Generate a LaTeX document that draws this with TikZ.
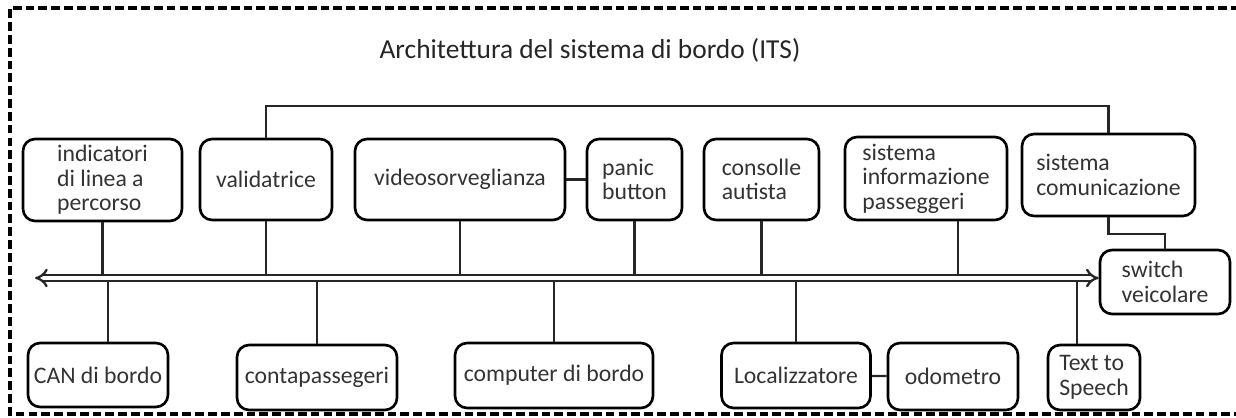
\documentclass[tikz,border=0pt]{standalone}
\usepackage{fontspec}
\setmainfont{Carlito}
\usetikzlibrary{arrows.meta}

\tikzset{
    modulo/.style={rectangle, rounded corners=0.24cm, draw, line width=1.5pt, align=left,
        font=\fontsize{13.5}{14}\selectfont, text=black!80, inner sep=2pt},
    linea/.style={line width=1.3pt, draw=black!85}
}

\begin{document}
\begin{tikzpicture}[x=0.02cm, y=-0.02cm]
    \useasboundingbox (0, 0) rectangle (1236, 418);
    \draw[line width=1.9pt, dash pattern=on 5pt off 2.3pt] (1240, 8) -- (10, 8) -- (10, 414) -- (1240, 414);

    \node (titolo) at (590, 50) {\fontsize{15.6}{18}\selectfont\color{black!85}Architettura del sistema di bordo (ITS)};

    \node (ind) [modulo, minimum width=3.18cm, minimum height=1.64cm] at (102.5, 180) {indicatori\\di linea a\\percorso};
    \node (val) [modulo, minimum width=2.64cm, minimum height=1.62cm] at (266, 179.5) {validatrice};
    \node (video) [modulo, minimum width=4.2cm, minimum height=1.62cm] at (460, 179.5) {videosorveglianza};
    \node (panic) [modulo, minimum width=1.9cm, minimum height=1.62cm] at (634.5, 179.5) {panic\\button};
    \node (consolle) [modulo, minimum width=2.3cm, minimum height=1.62cm] at (761.5, 179.5) {consolle\\autista};
    \node (sinfo) [modulo, minimum width=3.24cm, minimum height=1.66cm] at (926, 178.5) {sistema\\informazione\\passeggeri};
    \node (scom) [modulo, minimum width=3.46cm, minimum height=1.64cm] at (1108.5, 175) {sistema\\comunicazione};
    \node (switch) [modulo, minimum width=2.6cm, minimum height=1.28cm] at (1165, 282) {switch\\veicolare};

    \node (can) [modulo, minimum width=2.8cm, minimum height=1.28cm] at (98, 375) {CAN di bordo};
    \node (conta) [modulo, minimum width=3.2cm, minimum height=1.3cm] at (317, 377.5) {contapassegeri};
    \node (comp) [modulo, minimum width=3.96cm, minimum height=1.3cm] at (554, 375.5) {computer di bordo};
    \node (loc) [modulo, minimum width=2.98cm, minimum height=1.3cm] at (796, 375.5) {Localizzatore};
    \node (odo) [modulo, minimum width=2.6cm, minimum height=1.34cm] at (953, 376.5) {odometro};
    \node (tts) [modulo, minimum width=1.84cm, minimum height=1.3cm] at (1094, 377.5) {Text to\\Speech};

    \coordinate (busL) at (35, 278);
    \coordinate (busR) at (switch.west |- busL);

    % collegamenti
    \draw[linea] (val.north) -- ++(0, -32) -| (scom.north);
    \draw[linea] (scom.south) -- ++(0, 17) -| (switch.north);
    \draw[linea] (video) -- (panic);
    \draw[linea] (loc) -- (odo);

    \draw[linea] (ind.south) -- (ind.south |- busL);
    \draw[linea] (val.south) -- (val.south |- busL);
    \draw[linea] (video.south) -- (video.south |- busL);
    \draw[linea] (panic.south) -- (panic.south |- busL);
    \draw[linea] (consolle.south) -- (consolle.south |- busL);
    \draw[linea] ([xshift=0.64cm]sinfo.south) -- ([xshift=0.64cm]sinfo.south |- busL);

    \draw[linea] ([xshift=0.2cm]can.north) -- ([xshift=0.2cm]can.north |- busL);
    \draw[linea] (conta.north) -- (conta.north |- busL);
    \draw[linea] (comp.north) -- (comp.north |- busL);
    \draw[linea] (loc.north) -- (loc.north |- busL);
    \draw[linea] ([xshift=-0.34cm]tts.north) -- ([xshift=-0.34cm]tts.north |- busL);

    % bus
    \draw[line width=1.3pt, draw=black!85, double=white, double distance=2.2pt, {Implies}-{Implies}] (busL) -- (busR);
\end{tikzpicture}
\end{document}
